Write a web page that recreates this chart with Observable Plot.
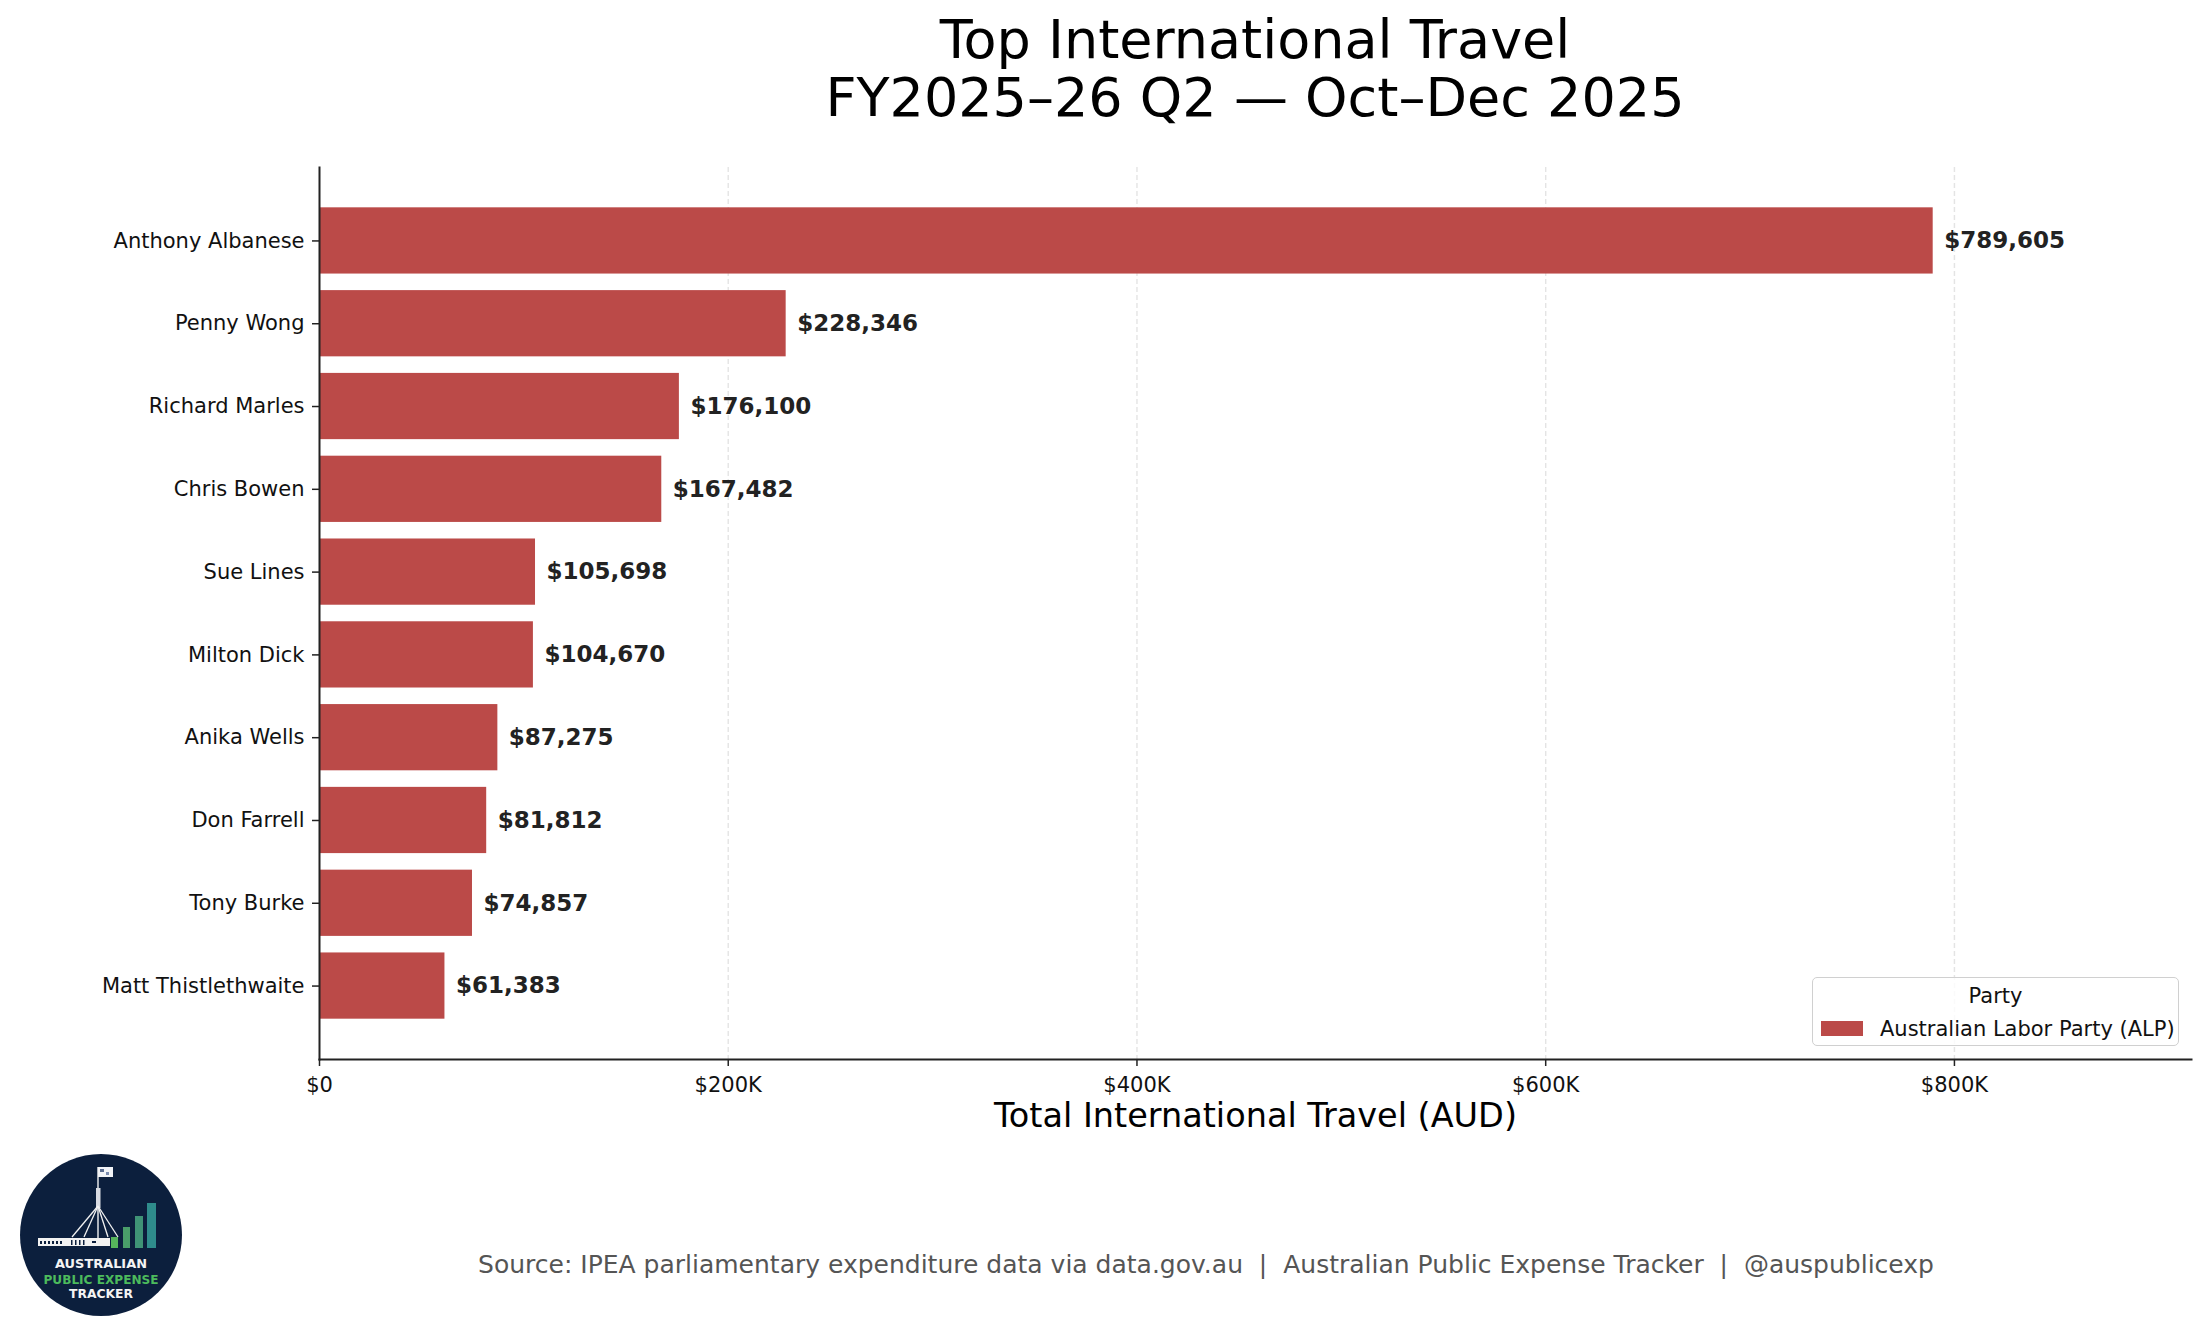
<!DOCTYPE html>
<html>
<head>
<meta charset="utf-8">
<script src="https://cdn.jsdelivr.net/npm/d3@7"></script>
<script src="https://cdn.jsdelivr.net/npm/@observablehq/plot@0.6"></script>
<style>
  html, body { margin: 0; padding: 0; background: #fff; }
  body { width: 2205px; height: 1337px; position: relative; overflow: hidden; font-family: "DejaVu Sans", sans-serif; }
  #title { position: absolute; left: 319px; width: 1872px; top: 11px; text-align: center; font-size: 54px; line-height: 58px; color: #000; }
  #chart { position: absolute; left: 0; top: 110px; }
  #legend { position: absolute; left: 1812px; top: 977px; width: 365px; height: 67px; border: 1.5px solid #d0d0d0; border-radius: 5px; background: rgba(255,255,255,0.8); box-sizing: content-box; }
  #legend .ltitle { position: absolute; left: 0; width: 100%; top: 5px; text-align: center; font-size: 21px; line-height: 26px; color: #111; }
  #legend .lbody { position: absolute; left: 8px; top: 34px; width: 372px; white-space: nowrap; }
  #legend .lbody * { white-space: nowrap; }
  #source { position: absolute; left: 306px; width: 1800px; top: 1250px; text-align: center; font-size: 25px; line-height: 30px; color: #555; white-space: pre; }
  #logo { position: absolute; left: 0; top: 1140px; }
</style>
</head>
<body>
<div id="title">Top International Travel<br>FY2025–26 Q2 — Oct–Dec 2025</div>
<div id="chart"></div>
<div id="legend"><div class="ltitle">Party</div><div class="lbody"></div></div>
<div id="source">Source: IPEA parliamentary expenditure data via data.gov.au  |  Australian Public Expense Tracker  |  @auspublicexp</div>
<svg id="logo" width="210" height="197" viewBox="0 1140 210 197">
  <circle cx="101" cy="1235" r="81" fill="#0c1f3d"/>
  <rect x="98" y="1167" width="15" height="10" fill="#f2f4f8"/>
  <rect x="100" y="1169" width="4" height="3" fill="#5a6c90"/>
  <rect x="106" y="1172" width="3" height="3" fill="#7a8cb0"/>
  <line x1="98" y1="1167" x2="98" y2="1238" stroke="#f2f2f2" stroke-width="1.4"/>
  <rect x="96" y="1188" width="4.5" height="20" fill="#d8dbe2"/>
  <line x1="98" y1="1206" x2="72" y2="1237" stroke="#f2f2f2" stroke-width="1.3"/>
  <line x1="98" y1="1206" x2="84" y2="1237" stroke="#f2f2f2" stroke-width="1.3"/>
  <line x1="98" y1="1206" x2="108" y2="1237" stroke="#f2f2f2" stroke-width="1.3"/>
  <line x1="98" y1="1206" x2="118" y2="1237" stroke="#f2f2f2" stroke-width="1.3"/>
  <rect x="38" y="1238" width="72" height="8" fill="#f2f2f2"/>
  <rect x="40" y="1241" width="2" height="3" fill="#0c1f3d"/>
  <rect x="44" y="1241" width="2" height="3" fill="#0c1f3d"/>
  <rect x="48" y="1241" width="2" height="3" fill="#0c1f3d"/>
  <rect x="52" y="1241" width="2" height="3" fill="#0c1f3d"/>
  <rect x="56" y="1241" width="2" height="3" fill="#0c1f3d"/>
  <rect x="60" y="1241" width="2" height="3" fill="#0c1f3d"/>
  <rect x="71" y="1240" width="1.5" height="5" fill="#0c1f3d"/>
  <rect x="75" y="1240" width="1.5" height="5" fill="#0c1f3d"/>
  <rect x="79" y="1240" width="1.5" height="5" fill="#0c1f3d"/>
  <rect x="83" y="1240" width="1.5" height="5" fill="#0c1f3d"/>
  <rect x="92" y="1241" width="4" height="2" fill="#0c1f3d"/>
  <rect x="111" y="1237" width="7" height="11" fill="#56b45c"/>
  <rect x="123" y="1227" width="7" height="21" fill="#4a9e6a"/>
  <rect x="135" y="1216" width="8" height="32" fill="#3f9376"/>
  <rect x="147" y="1203" width="9" height="45" fill="#2f8c8c"/>
  <text x="101" y="1268" text-anchor="middle" font-family="DejaVu Sans" font-weight="bold" font-size="13" fill="#f4f4f4" textLength="92" lengthAdjust="spacingAndGlyphs">AUSTRALIAN</text>
  <text x="101" y="1284" text-anchor="middle" font-family="DejaVu Sans" font-weight="bold" font-size="12" fill="#4cbb5c" textLength="115" lengthAdjust="spacingAndGlyphs">PUBLIC EXPENSE</text>
  <text x="101" y="1298" text-anchor="middle" font-family="DejaVu Sans" font-weight="bold" font-size="12" fill="#f4f4f4" textLength="64" lengthAdjust="spacingAndGlyphs">TRACKER</text>
</svg>
<script>
// ---- data ----
const names = [
  "Anthony Albanese", "Penny Wong", "Richard Marles", "Chris Bowen", "Sue Lines",
  "Milton Dick", "Anika Wells", "Don Farrell", "Tony Burke", "Matt Thistlethwaite"
];
const values = [789605, 228346, 176100, 167482, 105698, 104670, 87275, 81812, 74857, 61383];
const parties = ["Australian Labor Party (ALP)"];
const memberParty = names.map(() => parties[0]);
const partyColors = ["#bb4a48"];
const xTicks = [0, 200000, 400000, 600000, 800000];
const xTickLabels = ["$0", "$200K", "$400K", "$600K", "$800K"];
const xMax = 916000;
const xLabel = "Total International Travel (AUD)";

const data = names.map((n, i) => ({name: n, value: values[i], party: memberParty[i]}));
const fmtMoney = d3.format(",");
const tickFmt = d => xTickLabels[xTicks.indexOf(d)];

const plot = Plot.plot({
  width: 2205,
  height: 1050,
  marginTop: 57,
  marginBottom: 101,
  marginLeft: 319,
  marginRight: 14,
  style: {fontFamily: "DejaVu Sans", fontSize: "21px", color: "#222", background: "transparent", overflow: "visible"},
  x: {domain: [0, xMax], label: null},
  y: {domain: names, paddingInner: 0.2, paddingOuter: 0.487, round: false, label: null},
  color: {domain: parties, range: partyColors},
  marks: [
    Plot.gridX(xTicks.slice(1), {stroke: "#d9d9d9", strokeOpacity: 0.7, strokeWidth: 1.4, strokeDasharray: "5,3"}),
    Plot.barX(data, {x: "value", y: "name", fill: "party"}),
    Plot.text(data, {x: "value", y: "name", text: d => "$" + fmtMoney(d.value), dx: 11, textAnchor: "start", fontWeight: "bold", fontSize: 23, fill: "#222"}),
    Plot.axisY({tickSize: 7, tickPadding: 8, fontSize: 21, stroke: "#222", strokeWidth: 1.5, fill: "#111", label: null}),
    Plot.axisX({ticks: xTicks, tickFormat: tickFmt, tickSize: 7, tickPadding: 11, fontSize: 21, stroke: "#222", strokeWidth: 1.5, fill: "#111", label: null}),
    Plot.frame({anchor: "left", stroke: "#222", strokeWidth: 2}),
    Plot.frame({anchor: "bottom", stroke: "#222", strokeWidth: 2}),
    Plot.text([xLabel], {frameAnchor: "bottom", lineAnchor: "middle", dy: 57, fontSize: 33.5, fill: "#000"})
  ]
});
document.getElementById("chart").appendChild(plot);

const legend = Plot.legend({
  color: {domain: parties, range: partyColors},
  legend: "swatches",
  swatchWidth: 42,
  swatchHeight: 15,
  style: {fontFamily: "DejaVu Sans", fontSize: "21px", color: "#111", margin: "0", whiteSpace: "nowrap"}
});
legend.querySelectorAll("svg").forEach(s => { s.style.marginRight = "17px"; s.style.flexShrink = "0"; });
document.querySelector("#legend .lbody").appendChild(legend);
</script>
</body>
</html>
